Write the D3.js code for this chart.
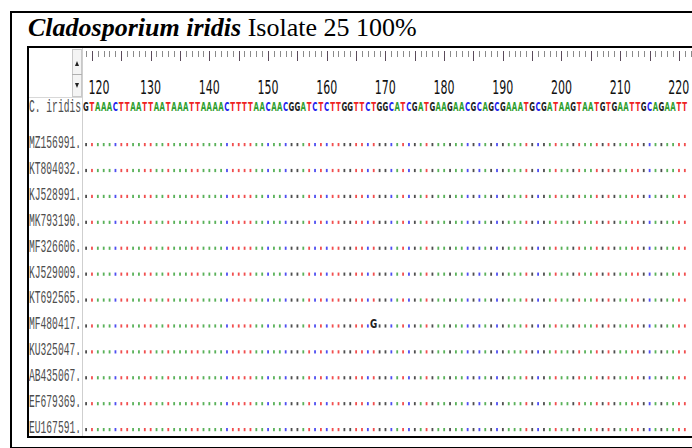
<!DOCTYPE html>
<meta charset="utf-8">
<style>
    body { margin: 0; background: #fff; }
    .title { font-family: "Liberation Serif", "Times New Roman", serif; font-size: 26px; fill: #000; }
    .name { font-family: "Liberation Mono", monospace; font-size: 18px; fill: #4d4d4d; }
    .ruler-label { font-family: "DejaVu Sans", sans-serif; font-size: 19px; fill: #111; }
    .base { font-family: "DejaVu Sans", sans-serif; font-size: 13px; font-weight: bold; }
</style>
<body>
<div id="chart"></div>
<script src="https://d3js.org/d3.v7.min.js"></script>
<script>

    // alignment data
    var refName = "C. iridis";
    var startPos = 119;
    var refSeq = "GTAAACTTAATTAATAAATTAAAACTTTTAACAACGGATCTCTTGGTTCTGGCATCGATGAAGAACGCAGCGAAATGCGATAAGTAATGTGAATTGCAGAATT".split("");
    var accessions = ["MZ156991.", "KT804032.", "KJ528991.", "MK793190.", "MF326606.", "KJ529009.",
                      "KT692565.", "MF480417.", "KU325047.", "AB435067.", "EF679369.", "EU167591."];
    var variants = [{ acc: "MF480417.", pos: 168, base: "G" }];
    var tickLabels = [120, 130, 140, 150, 160, 170, 180, 190, 200, 210, 220];

    var W = 692, H = 448;
    var baseColor = { A: "#2f9e2f", T: "#ee2222", C: "#2222ee", G: "#222222" };

    // one record per aligned column
    var columns = refSeq.map(function (b, i) { return { pos: startPos + i, base: b }; });

    // scales
    var x = d3.scaleLinear().domain([startPos, startPos + 100]).range([86, 673]);
    var y = d3.scalePoint().domain(accessions).range([142, 427]);
    var refY = 106;

    var svg = d3.select("#chart").append("svg")
        .attr("width", W)
        .attr("height", H);

    // frames
    svg.append("rect").attr("x", 11).attr("y", 12).attr("width", W + 10).attr("height", 436)
        .attr("fill", "none").attr("stroke", "#000").attr("stroke-width", 2);

    var title = svg.append("text").attr("class", "title").attr("x", 28).attr("y", 36);
    title.append("tspan").style("font-weight", "bold").style("font-style", "italic").text("Cladosporium iridis");
    title.append("tspan").text(" Isolate 25 100%");

    svg.append("rect").attr("x", 28).attr("y", 47).attr("width", W).attr("height", 390)
        .attr("fill", "#fff").attr("stroke", "#000").attr("stroke-width", 2);

    // name column
    svg.append("line").attr("x1", 82.5).attr("x2", 82.5).attr("y1", 48).attr("y2", 436)
        .attr("stroke", "#cfcfcf");
    svg.append("line").attr("x1", 29).attr("x2", 82).attr("y1", 97.5).attr("y2", 97.5)
        .attr("stroke", "#d8d8d8");

    // scroll arrows
    var sc = svg.append("g");
    sc.append("rect").attr("x", 72.5).attr("y", 49.5).attr("width", 9).attr("height", 47)
        .attr("fill", "#f4f4f4").attr("stroke", "#c8c8c8");
    sc.append("line").attr("x1", 72).attr("x2", 82).attr("y1", 74.5).attr("y2", 74.5).attr("stroke", "#b0b0b0");
    sc.append("path").attr("d", "M75,66 L79,66 L77,61 Z").attr("fill", "#222");
    sc.append("path").attr("d", "M75,83 L79,83 L77,88 Z").attr("fill", "#222");

    // alignment pane
    svg.append("clipPath").attr("id", "aln").append("rect")
        .attr("x", 83).attr("y", 48).attr("width", W).attr("height", 388);
    var aln = svg.append("g").attr("clip-path", "url(#aln)");

    // ruler
    var allTicks = d3.range(startPos, startPos + 106);
    aln.selectAll("line.tick").data(allTicks).enter().append("line")
        .attr("class", "tick")
        .attr("x1", function (d) { return Math.round(x(d)) + 0.5; })
        .attr("x2", function (d) { return Math.round(x(d)) + 0.5; })
        .attr("y1", 51)
        .attr("y2", function (d) { return d % 5 === 0 ? 61 : 57; })
        .attr("stroke", function (d) { return d % 5 === 0 ? "#5a4a5a" : "#8a8a8a"; })
        .attr("stroke-width", 1);

    aln.selectAll("text.ruler-label").data(tickLabels).enter().append("text")
        .attr("class", "ruler-label")
        .attr("transform", function (d) { return "translate(" + Math.max(x(d), 99) + ",94) scale(0.58,1)"; })
        .attr("text-anchor", "middle")
        .text(function (d) { return d; });

    // reference row
    svg.append("text").attr("class", "name").attr("x", 29).attr("y", refY + 6)
        .attr("textLength", 52).attr("lengthAdjust", "spacingAndGlyphs").text(refName);

    aln.selectAll("text.base").data(columns).enter().append("text")
        .attr("class", "base")
        .attr("transform", function (d) { return "translate(" + x(d.pos) + "," + (refY + 5) + ") scale(0.54,1)"; })
        .attr("text-anchor", "middle")
        .attr("fill", function (d) { return baseColor[d.base]; })
        .text(function (d) { return d.base; });

    // other rows
    svg.selectAll("text.acc").data(accessions).enter().append("text")
        .attr("class", "name acc")
        .attr("x", 29)
        .attr("y", function (d) { return y(d) + 6; })
        .attr("textLength", 52).attr("lengthAdjust", "spacingAndGlyphs")
        .text(function (d) { return d; });

    var varKey = {};
    variants.forEach(function (v) { varKey[v.acc + "|" + v.pos] = v.base; });

    accessions.forEach(function (acc) {
        var same = columns.filter(function (c) { return !varKey[acc + "|" + c.pos]; });
        aln.append("g").selectAll("rect").data(same).enter().append("rect")
            .attr("x", function (d) { return x(d.pos) - 0.8; })
            .attr("y", y(acc) + 1)
            .attr("width", 1.8)
            .attr("height", 3.2)
            .attr("fill", function (d) { return baseColor[d.base]; })
            .attr("opacity", 0.8);
    });

    variants.forEach(function (v) {
        aln.append("text").attr("class", "base")
            .attr("transform", "translate(" + x(v.pos) + "," + (y(v.acc) + 5) + ") scale(0.68,1)")
            .attr("text-anchor", "middle")
            .attr("fill", "#222")
            .text(v.base);
    });

</script>
</body>
